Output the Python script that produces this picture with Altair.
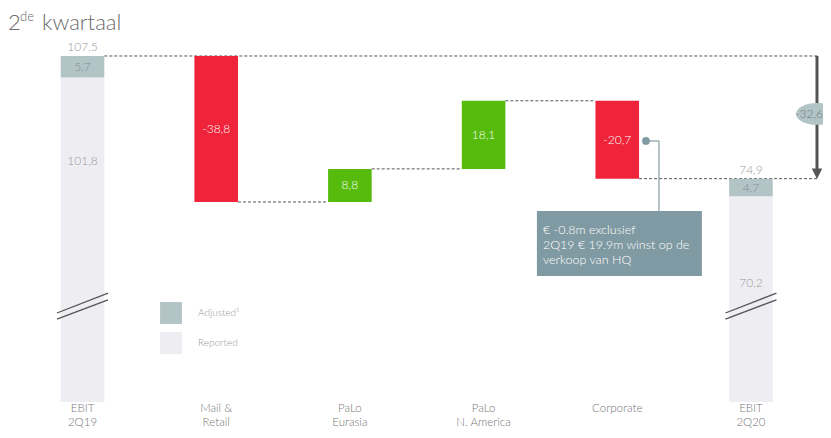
import altair as alt
import pandas as pd

# ---------------- data ----------------
categories = ["EBIT\n2Q19", "Mail &\nRetail", "PaLo\nEurasia", "PaLo\nN. America", "Corporate", "EBIT\n2Q20"]
ebit_reported = [101.8, 70.2]
ebit_adjustment = [5.7, 4.7]
delta_values = [-38.8, 8.8, 18.1, -20.7]
total_change = -32.6
legend_labels = ["Adjusted\u00b9", "Reported"]
note_lines = ["\u20ac -0.8m exclusief", "2Q19 \u20ac 19.9m winst op de", "verkoop van HQ"]
title_parts = ["2", "de", "kwartaal"]

# ---------------- styling ----------------
RED = "#ef2339"
GREEN = "#56bb0c"
ADJ = "#b3c4c7"
REP = "#eeeef2"
NOTE = "#7f9aa2"
FONT = "Lato"
FW = 300
HW = 0.163          # half bar width (category units)
ARROW_X = 5.494

def fmt(v):
    return f"{v:.1f}".replace(".", ",")

XS = alt.Scale(domain=[-0.505, 5.539], nice=False, zero=False)
YS = alt.Scale(domain=[15.55, 112.28], nice=False, zero=False)

def X(f):
    return alt.X(f, type="quantitative", scale=XS, axis=None)

def Y(f):
    return alt.Y(f, type="quantitative", scale=YS, axis=None)

# ---------------- derived tables ----------------
start = round(ebit_reported[0] + ebit_adjustment[0], 1)
levels = [start]
for d in delta_values:
    levels.append(round(levels[-1] + d, 1))
end = round(ebit_reported[1] + ebit_adjustment[1], 1)

ebit_rows = []
for j, idx in enumerate([0, 5]):
    rep, adj = ebit_reported[j], ebit_adjustment[j]
    ebit_rows.append(dict(i=idx, lo=0, hi=rep, segment=legend_labels[1]))
    ebit_rows.append(dict(i=idx, lo=rep, hi=round(rep + adj, 1), segment=legend_labels[0]))
ebit_df = pd.DataFrame(ebit_rows)
ebit_df["xa"] = ebit_df["i"] - HW
ebit_df["xb"] = ebit_df["i"] + HW

delta_rows = []
for k, d in enumerate(delta_values):
    a, b = levels[k], levels[k + 1]
    delta_rows.append(dict(i=k + 1, lo=min(a, b), hi=max(a, b), d=d,
                           mid=(a + b) / 2, label=fmt(d)))
delta_df = pd.DataFrame(delta_rows)
delta_df["xa"] = delta_df["i"] - HW
delta_df["xb"] = delta_df["i"] + HW

conn_rows = []
for k in range(5):
    xe = ARROW_X + 0.015 if k in (0, 4) else k + 1 - HW
    conn_rows.append(dict(xa=k + HW, xb=xe, y=levels[k]))
conn_df = pd.DataFrame(conn_rows)

brk_rows = []
for idx in [0, 5]:
    brk_rows.append(dict(xa=idx - 0.191, xb=idx + 0.191, ya=39.2, yb=44.5))
    brk_rows.append(dict(xa=idx - 0.191, xb=idx + 0.191, ya=37.6, yb=42.7))
brk_df = pd.DataFrame(brk_rows)

outer_df = pd.DataFrame([
    dict(i=0, y=start + 2.4, t=fmt(start), c="#999999"),
    dict(i=5, y=end + 2.4, t=fmt(end), c="#999999"),
    dict(i=0, y=ebit_reported[0] + ebit_adjustment[0] / 2, t=fmt(ebit_adjustment[0]), c="#7e8f93"),
    dict(i=5, y=ebit_reported[1] + ebit_adjustment[1] / 2, t=fmt(ebit_adjustment[1]), c="#7e8f93"),
    dict(i=0, y=79.6, t=fmt(ebit_reported[0]), c="#999999"),
    dict(i=5, y=47.2, t=fmt(ebit_reported[1]), c="#999999"),
])

cat_line1 = [c.split("\n")[0] for c in categories]
cat_line2 = [c.split("\n")[1] if "\n" in c else "" for c in categories]
cat_df = pd.DataFrame(dict(i=list(range(len(categories))), a=cat_line1, b=cat_line2))

arrow_df = pd.DataFrame([dict(x=ARROW_X, ya=start, yb=end + 1.6, tip=end + 1.33,
                              mid=92.1, t=fmt(total_change))])

note_box = pd.DataFrame([dict(xa=3.399, xb=4.633, ya=49.04, yb=66.31)])
note_dot = pd.DataFrame([dict(x=4.215, y=84.91)])
note_lead = pd.DataFrame([
    dict(xa=4.215, xb=4.312, ya=84.91, yb=84.91),
    dict(xa=4.312, xb=4.312, ya=84.91, yb=66.31),
])
note_text = pd.DataFrame(dict(x=[3.444] * 3, y=[61.3, 57.3, 53.3], t=note_lines))

title_df = pd.DataFrame(dict(t=title_parts))

# ---------------- layers ----------------
base_axis = alt.Axis(labels=False, ticks=False, grid=False, title=None,
                     domainColor="#222222", domainWidth=2)

connectors = alt.Chart(conn_df).mark_rule(color="#555555", strokeDash=[3, 2], strokeWidth=1).encode(
    x=alt.X("xa:Q", scale=XS, axis=base_axis), x2="xb:Q", y=Y("y"))

ebit_bars = alt.Chart(ebit_df).mark_rect(clip=True).encode(
    x=X("xa"), x2="xb:Q", y=Y("lo"), y2="hi:Q",
    color=alt.Color("segment:N",
                    scale=alt.Scale(domain=legend_labels, range=[ADJ, REP]),
                    legend=alt.Legend(title=None, orient="none", legendX=145, legendY=264,
                                      symbolType="square", symbolSize=480, symbolStrokeWidth=0,
                                      labelFontSize=10, labelColor="#999999", labelFont=FONT,
                                      labelFontWeight=FW,
                                      labelOffset=16, rowPadding=8, padding=0)))

delta_bars = alt.Chart(delta_df).mark_rect().encode(
    x=X("xa"), x2="xb:Q", y=Y("lo"), y2="hi:Q",
    color=alt.condition(alt.datum.d < 0, alt.value(RED), alt.value(GREEN)))

delta_text = alt.Chart(delta_df).mark_text(color="white", fontSize=12, font=FONT, fontWeight=FW).encode(
    x=X("i"), y=Y("mid"), text="label:N")

breaks = alt.Chart(brk_df).mark_rule(color="#555555", strokeWidth=1.3).encode(
    x=X("xa"), x2="xb:Q", y=Y("ya"), y2="yb:Q")

outer_text = alt.Chart(outer_df).mark_text(fontSize=12, font=FONT, fontWeight=FW).encode(
    x=X("i"), y=Y("y"), text="t:N", color=alt.Color("c:N", scale=None))

arrow_line = alt.Chart(arrow_df).mark_rule(color="#555555", strokeWidth=3).encode(
    x=X("x"), y=Y("ya"), y2="yb:Q")
arrow_head = alt.Chart(arrow_df).mark_point(shape="M-1,-1L1,-1L0,1Z", size=110, filled=True,
                                            color="#555555", opacity=1).encode(
    x=X("x"), y=Y("tip"))
ellipse = alt.Chart(arrow_df).mark_point(
    shape="M-1,0A1,0.52 0 1,1 1,0A1,0.52 0 1,1 -1,0Z", size=1764, filled=True,
    color=ADJ, opacity=1).encode(x=X("x"), y=Y("mid"))
ellipse_text = alt.Chart(arrow_df).mark_text(fontSize=12, font=FONT, fontWeight=FW,
                                             color="#6b7a7f", dx=-8).encode(
    x=X("x"), y=Y("mid"), text="t:N")

box = alt.Chart(note_box).mark_rect(color=NOTE).encode(
    x=X("xa"), x2="xb:Q", y=Y("ya"), y2="yb:Q")
lead = alt.Chart(note_lead).mark_rule(color="#8ea3a9", strokeWidth=1.3).encode(
    x=X("xa"), x2="xb:Q", y=Y("ya"), y2="yb:Q")
dot = alt.Chart(note_dot).mark_point(shape="circle", size=60, filled=True, color="#7f9ca3",
                                     opacity=1).encode(x=X("x"), y=Y("y"))
ntext = alt.Chart(note_text).mark_text(align="left", baseline="middle", color="white",
                                       fontSize=12.5, font=FONT, fontWeight=FW).encode(
    x=X("x"), y=Y("y"), text="t:N")

cat_text1 = alt.Chart(cat_df).mark_text(baseline="middle", fontSize=11.5, font=FONT,
                                        fontWeight=FW, color="#777777").encode(
    x=X("i"), y=alt.value(371), text="a:N")
cat_text2 = alt.Chart(cat_df).mark_text(baseline="middle", fontSize=11.5, font=FONT,
                                        fontWeight=FW, color="#777777").encode(
    x=X("i"), y=alt.value(385), text="b:N")

t1 = alt.Chart(title_df.iloc[[0]]).mark_text(align="left", baseline="alphabetic", fontSize=22,
                                             font=FONT, fontWeight=FW, color="#6a6a6a").encode(
    x=alt.value(-7), y=alt.value(-8), text="t:N")
t2 = alt.Chart(title_df.iloc[[1]]).mark_text(align="left", baseline="alphabetic", fontSize=13,
                                             font=FONT, fontWeight=FW, color="#6a6a6a").encode(
    x=alt.value(5), y=alt.value(-17), text="t:N")
t3 = alt.Chart(title_df.iloc[[2]]).mark_text(align="left", baseline="alphabetic", fontSize=22,
                                             font=FONT, fontWeight=FW, color="#6a6a6a").encode(
    x=alt.value(27), y=alt.value(-8), text="t:N")

chart = alt.layer(
    connectors, ebit_bars, delta_bars, delta_text, breaks, outer_text,
    arrow_line, arrow_head, ellipse, ellipse_text,
    lead, dot, box, ntext, cat_text1, cat_text2, t1, t2, t3,
).properties(
    width=808, height=364,
    autosize=alt.AutoSizeParams(type="none"),
    padding={"left": 7, "top": 30, "right": 0, "bottom": 28},
    background="white",
).configure_view(stroke=None)

chart.save("out.html", embed_options={"renderer": "svg", "actions": False})
